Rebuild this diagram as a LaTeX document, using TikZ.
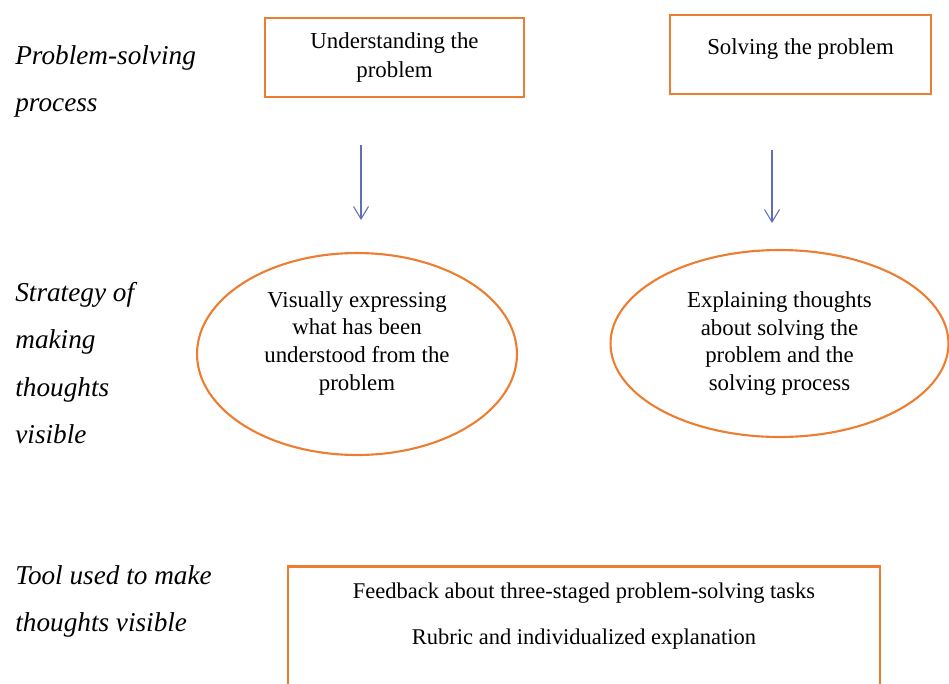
\documentclass[tikz,border=0pt]{standalone}
\usepackage{fontspec}
\setmainfont{Liberation Serif}
\usetikzlibrary{arrows.meta, positioning, shapes.geometric}
\definecolor{framecol}{RGB}{237, 125, 49}
\definecolor{arrowcol}{RGB}{95, 110, 185}

\begin{document}
\begin{tikzpicture}[
    x=0.02cm, y=-0.02cm,
    box/.style={rectangle, draw=framecol, line width=1.6pt, align=center, font=\fontsize{13}{16}\selectfont},
    thought/.style={ellipse, draw=framecol, line width=1.2pt, inner sep=0pt, align=center, font=\fontsize{13}{15.8}\selectfont},
    side/.style={anchor=north west, align=left, inner sep=0pt, font=\fontsize{15.5}{27}\selectfont\itshape},
    arr/.style={-{Straight Barb[length=2.5mm, width=3mm]}, draw=arrowcol, line width=0.6pt}
]
    \useasboundingbox (0,0) rectangle (949,683);
    \clip (0,0) rectangle (949,683);

    % row labels
    \node[side] (lprocess) at (15,45) {Problem-solving\\process};
    \node[side] (lstrategy) at (15,282) {Strategy of\\making\\thoughts\\visible};
    \node[side] (ltool) at (15,565) {Tool used to make\\thoughts visible};

    % stages
    \node[box, minimum width=5.18cm, minimum height=1.58cm] (understand) at (394.5,57.5) {Understanding the\\problem};
    \node[box, minimum width=5.22cm, minimum height=1.58cm, text depth=9pt] (solve) at (800.5,54.5) {Solving the problem};

    % strategies
    \node[thought, minimum width=6.4cm, minimum height=4.04cm, text depth=15pt] (visual) at (357,354) {Visually expressing\\what has been\\understood from the\\problem};
    \node[thought, minimum width=6.76cm, minimum height=3.74cm] (explain) at (779.5,343.5) {Explaining thoughts\\about solving the\\problem and the\\solving process};

    % tool
    \node[box, anchor=north, minimum width=11.84cm, inner ysep=9.5pt, text depth=48pt, font=\fontsize{12.8}{16}\selectfont] (feedback) at (584,565) {Feedback about three-staged problem-solving tasks\\[10pt]Rubric and individualized explanation};

    \coordinate (a1s) at (361,145);
    \coordinate (a1e) at (361,220);
    \coordinate (a2s) at (772,150);
    \coordinate (a2e) at (772,223);
    \draw[arr] (a1s) -- (a1e);
    \draw[arr] (a2s) -- (a2e);
\end{tikzpicture}
\end{document}
